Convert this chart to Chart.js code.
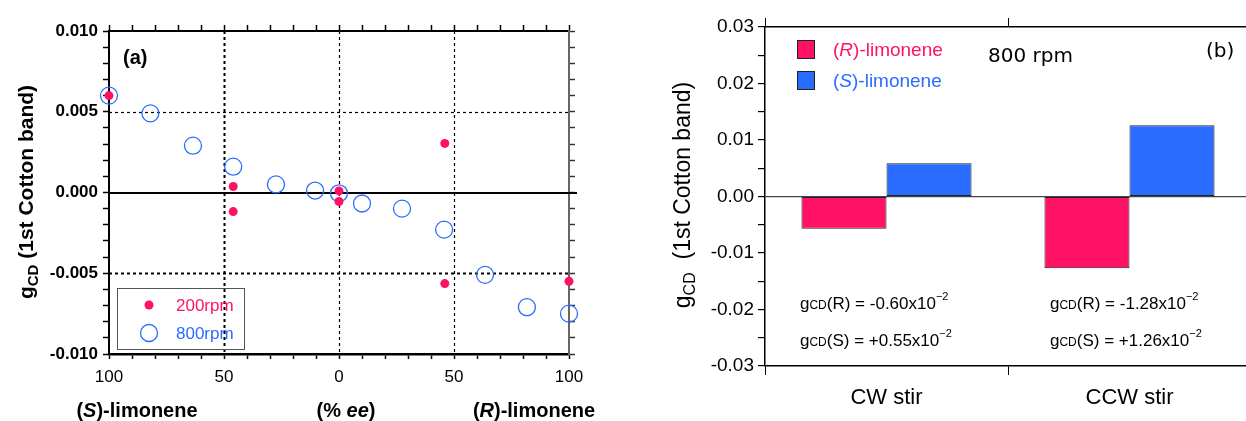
<!DOCTYPE html>
<html>
<head>
<meta charset="utf-8">
<script src="https://cdn.jsdelivr.net/npm/chart.js@4.4.0/dist/chart.umd.min.js"></script>
<style>
html, body { margin:0; padding:0; overflow:hidden; background:#fff; width:1246px; height:421px; }
#left { position:absolute; left:0; top:0; }
#right { position:absolute; left:620px; top:0; }
</style>
</head>
<body>
<canvas id="left" width="620" height="421"></canvas>
<canvas id="right" width="640" height="421"></canvas>
<script>
// panel (a): x = % ee, negative side is the (S) enantiomer
const ee200 = [-100, -46, -46, 0, 0, 46, 46, 100];
const g200 = [0.0060, 0.00037, -0.00118, 0.0001, -0.00056, 0.00304, -0.00564, -0.0055];
const ee800 = [-100, -82, -63.5, -46, -27.4, -10.4, 0, 10, 27.4, 45.7, 63.5, 81.7, 100];
const g800 = [0.0060, 0.0049, 0.0029, 0.0016, 0.0005, 0.00012, -0.00005, -0.00068, -0.001, -0.0023, -0.0051, -0.0071, -0.0075];
const rpmNames = ['200rpm', '800rpm'];

// panel (b): 800 rpm
const stirLabels = ['CW stir', 'CCW stir'];
const gR = [-0.0057, -0.0127];
const gS = [0.0059, 0.0126];
const noteR = ['-0.60', '-1.28'];
const noteS = ['+0.55', '+1.26'];

const PINK = '#ff1166';
const BLUE = '#2a6cff';
const FAM = "'Liberation Sans', Arial, sans-serif";
Chart.defaults.font.family = FAM;
Chart.defaults.color = '#000';

// draw a row of text pieces with different fonts
function runs(ctx, parts, x, y, align) {
  let w = 0;
  parts.forEach(p => { ctx.font = p.f; p.w = ctx.measureText(p.t).width; w += p.w; });
  let cx = align === 'center' ? x - w / 2 : (align === 'right' ? x - w : x);
  ctx.textAlign = 'left';
  ctx.textBaseline = 'alphabetic';
  parts.forEach(p => {
    ctx.font = p.f;
    ctx.fillStyle = p.c || '#000';
    ctx.fillText(p.t, cx, y + (p.dy || 0));
    cx += p.w;
  });
}

const near = (v, step) => Math.abs(v / step - Math.round(v / step)) < 1e-6;

// ---------- (a) ----------
const panelA = {
  id: 'panelA',
  beforeDatasetsDraw(chart) {
    const ctx = chart.ctx, a = chart.chartArea;
    const xs = chart.scales.x, ys = chart.scales.y;
    ctx.save();
    ctx.strokeStyle = '#000';
    ctx.setLineDash([3, 3]);
    [-50, 0, 50].forEach(v => {
      const px = Math.round(xs.getPixelForValue(v)) + 0.5;
      ctx.lineWidth = v === -50 ? 2 : 1.2;
      ctx.beginPath(); ctx.moveTo(px, a.top); ctx.lineTo(px, a.bottom); ctx.stroke();
    });
    [-0.005, 0.005].forEach(v => {
      const py = Math.round(ys.getPixelForValue(v)) + 0.5;
      ctx.lineWidth = v < 0 ? 2 : 1.2;
      ctx.beginPath(); ctx.moveTo(a.left, py); ctx.lineTo(a.right, py); ctx.stroke();
    });
    ctx.setLineDash([]);
    ctx.lineWidth = 2;
    const p0 = Math.round(ys.getPixelForValue(0));
    ctx.beginPath(); ctx.moveTo(a.left, p0); ctx.lineTo(a.right + 8, p0); ctx.stroke();
    ctx.restore();
  },
  afterDraw(chart) {
    const ctx = chart.ctx;
    ctx.save();
    runs(ctx, [{ t: '(a)', f: `bold 20px ${FAM}` }], 123, 64, 'left');

    // y title
    ctx.translate(25, 192);
    ctx.rotate(-Math.PI / 2);
    runs(ctx, [
      { t: 'g', f: `bold 21px ${FAM}` },
      { t: 'CD', f: `bold 15px ${FAM}`, dy: 5 },
      { t: ' (1st Cotton band)', f: `bold 21px ${FAM}` }
    ], 0, 8, 'center');
    ctx.setTransform(1, 0, 0, 1, 0, 0);

    // x titles
    const B = `bold 20px ${FAM}`, BI = `bold italic 20px ${FAM}`;
    runs(ctx, [{ t: '(', f: B }, { t: 'S', f: BI }, { t: ')-limonene', f: B }], 137, 417, 'center');
    runs(ctx, [{ t: '(% ', f: B }, { t: 'ee', f: BI }, { t: ')', f: B }], 346, 417, 'center');
    runs(ctx, [{ t: '(', f: B }, { t: 'R', f: BI }, { t: ')-limonene', f: B }], 534, 417, 'center');

    // legend box
    ctx.strokeStyle = '#555';
    ctx.lineWidth = 1;
    ctx.strokeRect(117.5, 288.5, 127, 61);
    ctx.fillStyle = PINK;
    ctx.beginPath(); ctx.arc(149, 305, 4.5, 0, Math.PI * 2); ctx.fill();
    ctx.strokeStyle = BLUE;
    ctx.lineWidth = 1.3;
    ctx.beginPath(); ctx.arc(149, 333, 8.5, 0, Math.PI * 2); ctx.stroke();
    runs(ctx, [{ t: rpmNames[0], f: `17px ${FAM}`, c: PINK }], 176, 311, 'left');
    runs(ctx, [{ t: rpmNames[1], f: `17px ${FAM}`, c: BLUE }], 176, 339, 'left');
    ctx.restore();
  }
};

new Chart(document.getElementById('left'), {
  type: 'scatter',
  data: {
    datasets: [
      {
        label: rpmNames[0],
        data: ee200.map((x, i) => ({ x, y: g200[i] })),
        pointRadius: 4.5, pointBackgroundColor: PINK, pointBorderWidth: 0, clip: false
      },
      {
        label: rpmNames[1],
        data: ee800.map((x, i) => ({ x, y: g800[i] })),
        pointRadius: 8.5, pointBackgroundColor: 'rgba(0,0,0,0)', pointBorderColor: BLUE, pointBorderWidth: 1.3, clip: false
      }
    ]
  },
  options: {
    responsive: false,
    animation: false,
    layout: { padding: 0, autoPadding: false },
    plugins: { legend: { display: false }, tooltip: { enabled: false } },
    scales: {
      x: {
        type: 'linear', position: 'bottom', min: -100, max: 100,
        ticks: { stepSize: 10, autoSkip: false, maxRotation: 0, padding: 8, font: { size: 17 },
          callback: v => (near(v, 50) ? String(Math.abs(Math.round(v))) : '') },
        grid: { drawOnChartArea: false, tickLength: 5, tickColor: '#000', tickWidth: 1.5 },
        border: { color: '#000', width: 2.5, dash: [2, 2] },
        afterFit: s => { s.height = 67; }
      },
      xTop: {
        axis: 'x', type: 'linear', position: 'top', min: -100, max: 100,
        ticks: { stepSize: 10, autoSkip: false, callback: () => '' },
        grid: { drawOnChartArea: false, tickLength: 6, tickColor: '#000', tickWidth: 1.5 },
        border: { color: '#000', width: 2 },
        afterFit: s => { s.height = 31; }
      },
      y: {
        position: 'left', min: -0.01, max: 0.01,
        ticks: { stepSize: 0.001, autoSkip: false, padding: 5, font: { size: 17, weight: 'bold' },
          callback: v => (Math.abs(v) < 1e-9 ? '0.000' : (near(v, 0.005) ? v.toFixed(3) : '')) },
        grid: { drawOnChartArea: false, tickLength: 6, tickColor: '#000', tickWidth: 1.5 },
        border: { color: '#000', width: 2 },
        afterFit: s => { s.width = 109; }
      },
      yRight: {
        axis: 'y', position: 'right', min: -0.01, max: 0.01,
        ticks: { stepSize: 0.001, autoSkip: false, callback: () => '' },
        grid: { drawOnChartArea: false, tickLength: 6, tickColor: '#333', tickWidth: 1.5 },
        border: { color: '#666', width: 2 },
        afterFit: s => { s.width = 51; }
      }
    }
  },
  plugins: [panelA]
});

// ---------- (b) ----------
const panelB = {
  id: 'panelB',
  afterDraw(chart) {
    const ctx = chart.ctx;
    ctx.save();
    // legend
    ctx.strokeStyle = '#222';
    ctx.lineWidth = 1;
    ctx.fillStyle = PINK;
    ctx.fillRect(177, 40, 17, 18); ctx.strokeRect(177.5, 40.5, 17, 18);
    ctx.fillStyle = BLUE;
    ctx.fillRect(177, 71, 17, 18); ctx.strokeRect(177.5, 71.5, 17, 18);
    const N = `19px ${FAM}`, I = `italic 19px ${FAM}`;
    runs(ctx, [{ t: '(', f: N, c: PINK }, { t: 'R', f: I, c: PINK }, { t: ')-limonene', f: N, c: PINK }], 213, 56, 'left');
    runs(ctx, [{ t: '(', f: N, c: BLUE }, { t: 'S', f: I, c: BLUE }, { t: ')-limonene', f: N, c: BLUE }], 213, 87, 'left');

    runs(ctx, [{ t: '800 rpm', f: "20px 'DejaVu Sans'" }], 368, 62, 'left');
    runs(ctx, [{ t: '(b)', f: "20px 'DejaVu Sans'" }], 586, 57, 'left');

    // value notes
    const F = `17px ${FAM}`, S = `12px ${FAM}`, SUP = `11px ${FAM}`;
    [180, 430].forEach((x, i) => {
      runs(ctx, [{ t: 'g', f: F }, { t: 'CD', f: S }, { t: `(R) = ${noteR[i]}x10`, f: F }, { t: '\u22122', f: SUP, dy: -9 }], x, 309, 'left');
      runs(ctx, [{ t: 'g', f: F }, { t: 'CD', f: S }, { t: `(S) = ${noteS[i]}x10`, f: F }, { t: '\u22122', f: SUP, dy: -9 }], x, 346, 'left');
    });

    // y title
    ctx.translate(62, 195);
    ctx.rotate(-Math.PI / 2);
    runs(ctx, [
      { t: 'g', f: `23px ${FAM}` },
      { t: 'CD', f: `16px ${FAM}`, dy: 5 },
      { t: '  (1st Cotton band)', f: `23px ${FAM}` }
    ], 0, 8, 'center');
    ctx.restore();
  }
};

new Chart(document.getElementById('right'), {
  type: 'bar',
  data: {
    labels: stirLabels,
    datasets: [
      { label: '(R)-limonene', data: gR, backgroundColor: PINK, borderColor: '#222', borderWidth: 1, borderSkipped: false,
        categoryPercentage: 0.7, barPercentage: 1 },
      { label: '(S)-limonene', data: gS, backgroundColor: BLUE, borderColor: '#222', borderWidth: 1, borderSkipped: false,
        categoryPercentage: 0.7, barPercentage: 1 }
    ]
  },
  options: {
    responsive: false,
    animation: false,
    layout: { padding: { right: 9, left: 0, top: 0, bottom: 0 }, autoPadding: false },
    plugins: { legend: { display: false }, tooltip: { enabled: false } },
    scales: {
      x: {
        position: 'bottom', offset: true,
        ticks: { font: { size: 22 }, padding: 10, maxRotation: 0 },
        grid: { offset: true, drawOnChartArea: false, tickLength: 9, tickColor: '#000' },
        border: { color: '#000', width: 1.5 },
        afterFit: s => { s.height = 55; }
      },
      xTop: {
        axis: 'x', type: 'category', position: 'top', offset: true,
        ticks: { callback: () => '' },
        grid: { offset: true, drawOnChartArea: false, tickLength: 9, tickColor: '#000' },
        border: { color: '#000', width: 1.5 },
        afterFit: s => { s.height = 27; }
      },
      y: {
        min: -0.03, max: 0.03,
        ticks: { stepSize: 0.005, autoSkip: false, padding: 4, font: { size: 19 },
          callback: v => (Math.abs(v) < 1e-9 ? '0.00' : (near(v, 0.01) ? v.toFixed(2) : '')) },
        grid: { color: c => (c.tick && Math.abs(c.tick.value) < 1e-9 ? '#444' : 'rgba(0,0,0,0)'),
          tickColor: '#000', tickLength: 7, lineWidth: 1.2 },
        border: { color: '#000', width: 1.5 },
        afterFit: s => { s.width = 145; }
      }
    }
  },
  plugins: [panelB]
});
</script>
</body>
</html>
